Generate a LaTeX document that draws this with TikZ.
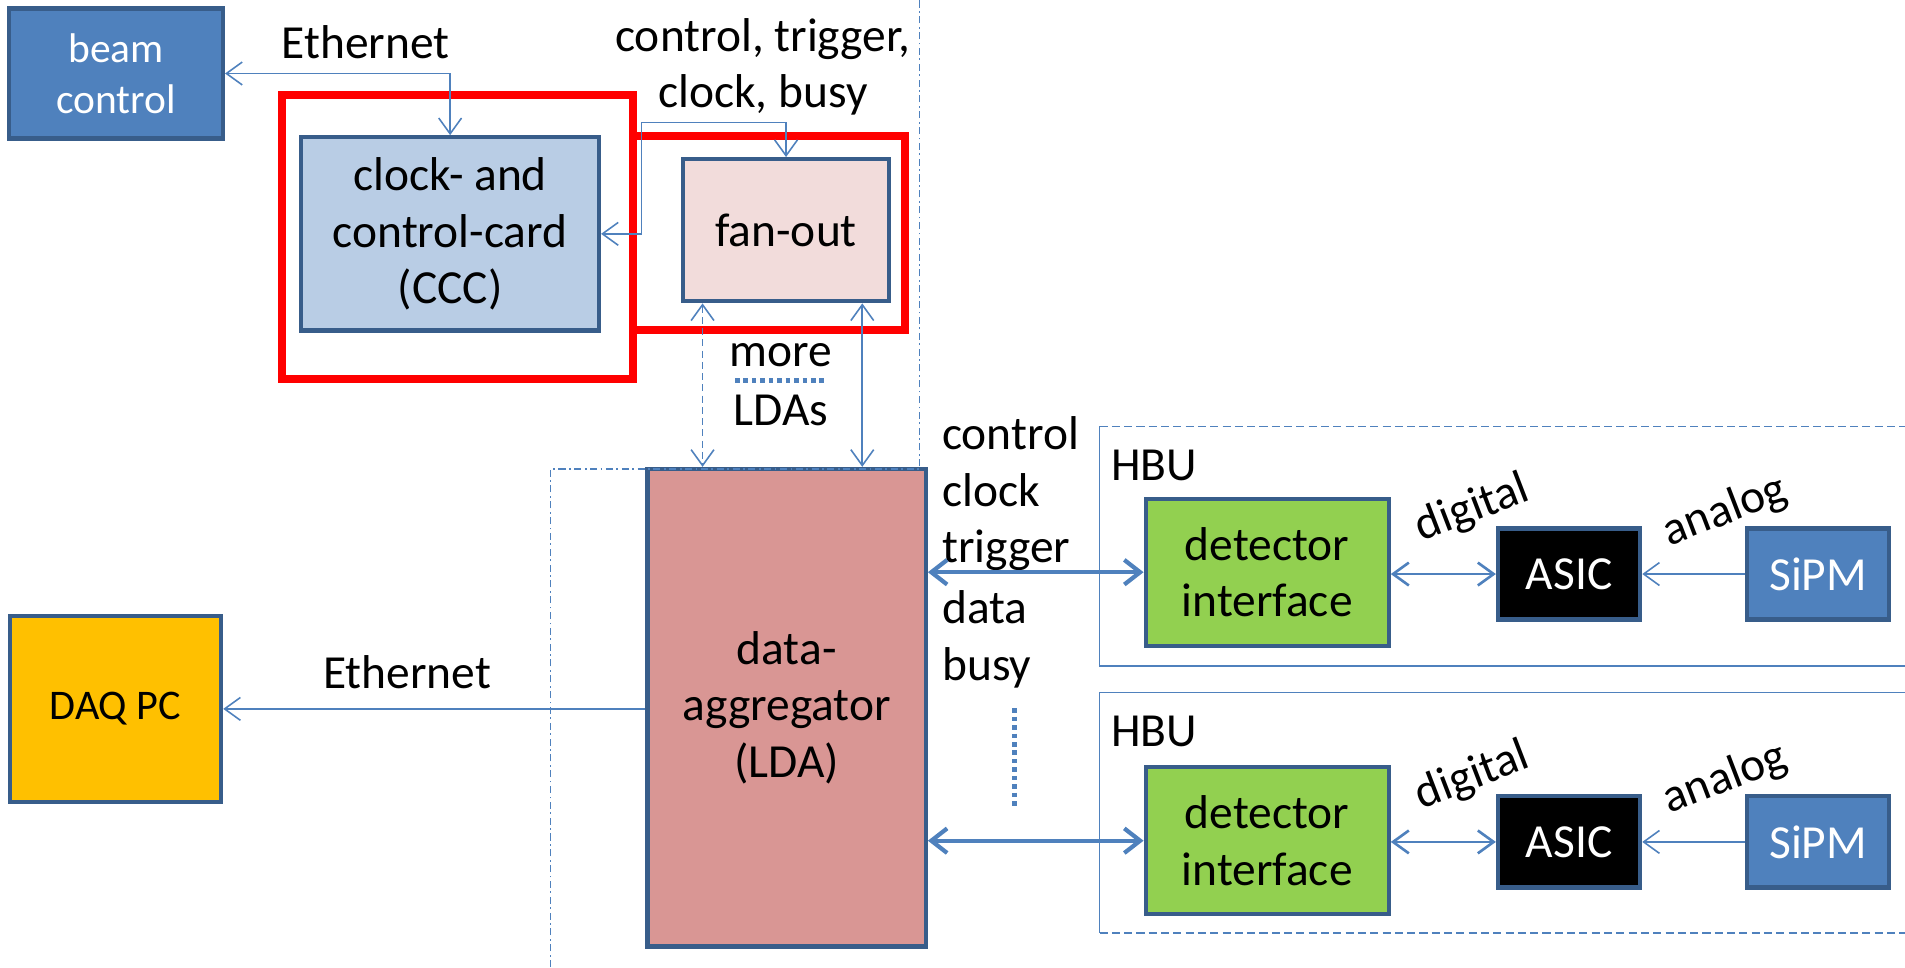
\documentclass[tikz,border=0pt]{standalone}
\usepackage{fontspec}
\setmainfont{Carlito}
\usetikzlibrary{arrows.meta,calc}
\definecolor{ln}{HTML}{4F81BD}
\definecolor{bd}{HTML}{385D8A}
\definecolor{cccfill}{HTML}{B9CDE5}
\definecolor{fanfill}{HTML}{F2DCDB}
\definecolor{ldafill}{HTML}{D99694}
\definecolor{daqfill}{HTML}{FFC000}
\definecolor{difill}{HTML}{92D050}
\definecolor{redline}{HTML}{FF0000}
\def\un{0.012149cm}
\begin{document}
\begin{tikzpicture}[x=0.012149cm,y=-0.012149cm,
  box/.style={draw=bd, line width=1.2pt, inner sep=0pt, align=center, font=\fontsize{13.5}{16}\selectfont},
  lbl/.style={font=\fontsize{13.5}{16}\selectfont, inner sep=0pt, align=center},
  conn/.style={draw=ln, line width=0.45pt},
  both/.style={conn, arrows={Straight Barb[length=4.5pt,width=6.5pt]-Straight Barb[length=4.5pt,width=6.5pt]}},
  one/.style={conn, arrows={-Straight Barb[length=4.5pt,width=6.5pt]}},
  fat/.style={draw=ln, line width=1.2pt, arrows={Straight Barb[length=4.5pt,width=7pt]-Straight Barb[length=4.5pt,width=7pt]}},
  mid/.style={draw=ln, line width=0.75pt, arrows={Straight Barb[length=4.5pt,width=6.5pt]-Straight Barb[length=4.5pt,width=6.5pt]}},
  redbox/.style={draw=redline, line width=2.3pt},
  dashdotline/.style={draw=ln, line width=0.45pt, dash pattern=on 2pt off 1pt on 0.5pt off 1pt},
  hbudash/.style={draw=ln, line width=0.5pt, dash pattern=on 2.3pt off 1.2pt},
  hbusolid/.style={draw=ln, line width=0.5pt},
  dots/.style={draw=ln, line width=1.4pt, dash pattern=on 1.3pt off 1.1pt}
]
\useasboundingbox (0,0) rectangle (1568,796);

% red frames
\draw[redbox] (232,78) rectangle (521,312);
\draw[redbox] (521,112) rectangle (745,272);

% boxes
\node[box, fill=ln, text=white, font=\fontsize{11.8}{14.4}\selectfont, minimum width=176*\un, minimum height=107*\un] (beam) at (95.5,60.5) {beam\\control};
\node[box, fill=cccfill, minimum width=245*\un, minimum height=159*\un] (ccc) at (370.5,192.5) {clock- and\\control-card\\(CCC)};
\node[box, fill=fanfill, minimum width=170*\un, minimum height=117*\un] (fan) at (647,189.5) {fan-out};
\node[box, fill=ldafill, minimum width=229*\un, minimum height=393*\un] (lda) at (647.5,582.5) {data-\\aggregator\\(LDA)};
\node[box, fill=daqfill, font=\fontsize{12}{14.6}\selectfont, minimum width=174*\un, minimum height=153*\un] (daq) at (95,583.5) {DAQ PC};

% region outlines
\draw[dashdotline] (453,796) -- (453,386) -- (757,386) -- (757,0);
\draw[hbusolid] (1568,548) -- (905,548) -- (905,351);
\draw[hbudash] (905,351) -- (1568,351);
\draw[hbusolid] (1568,570) -- (905,570) -- (905,768);
\draw[hbudash] (905,768) -- (1568,768);

\node[box, fill=difill, minimum width=200*\un, minimum height=121*\un] (di1) at (1043,471) {detector\\interface};
\node[box, fill=difill, minimum width=200*\un, minimum height=121*\un] (di2) at (1043,692) {detector\\interface};
\node[box, fill=black, text=white, minimum width=117*\un, minimum height=75*\un] (asic1) at (1291.5,472.5) {ASIC};
\node[box, fill=black, text=white, minimum width=117*\un, minimum height=75*\un] (asic2) at (1291.5,693) {ASIC};
\node[box, fill=ln, text=white, minimum width=117*\un, minimum height=75*\un] (sipm1) at (1496.5,472.5) {SiPM};
\node[box, fill=ln, text=white, minimum width=117*\un, minimum height=75*\un] (sipm2) at (1496.5,693) {SiPM};

% labels
\node[lbl] (eth1) at (301,35) {Ethernet};
\node[lbl] (ctb) at (628,55) {control, trigger,\\clock, busy};
\node[lbl] (more) at (643,292) {more};
\node[lbl] (ldas) at (643,338) {LDAs};
\node[lbl] (eth2) at (335,553) {Ethernet};
\node[lbl, anchor=base west] (s1) at (775,370) {control};
\node[lbl, anchor=base west] (s2) at (775,417) {clock};
\node[lbl, anchor=base west] (s3) at (775,463) {trigger};
\node[lbl, anchor=base west] (s4) at (775,513) {data};
\node[lbl, anchor=base west] (s5) at (775,560) {busy};
\node[lbl] (hbu1) at (950,383) {HBU};
\node[lbl] (hbu2) at (950,602) {HBU};
\node[lbl, rotate=21] (dig1) at (1212,419) {digital};
\node[lbl, rotate=21] (ana1) at (1420,421) {analog};
\node[lbl, rotate=21] (dig2) at (1212,639) {digital};
\node[lbl, rotate=21] (ana2) at (1420,641) {analog};

% dotted markers
\coordinate (m1) at (605,313);
\coordinate (m2) at (681,313);
\draw[dots] (m1) -- (m2);
\coordinate (v1) at (835,583);
\coordinate (v2) at (835,665);
\draw[dots] (v1) -- (v2);

% connectors
\draw[both] (beam.east) -| (ccc.north);
\coordinate (k1) at (528,101);
\draw[both] (ccc.east) -| (k1) -| (fan.north);
\coordinate (fa) at ($(fan.south west)+(18,0)$);
\coordinate (fb) at ($(fan.south east)+(-24,0)$);
\draw[both, dashed, dash pattern=on 2pt off 1.2pt] (fa) -- (fa |- lda.north);
\draw[both] (fb) -- (fb |- lda.north);
\draw[one] (lda.west |- daq.east) -- (daq.east);
\draw[fat] (lda.east |- di1.west) -- (di1.west);
\draw[fat] (lda.east |- di2.west) -- (di2.west);
\draw[mid] (di1.east |- asic1.west) -- (asic1.west);
\draw[mid] (di2.east |- asic2.west) -- (asic2.west);
\draw[one] (sipm1.west) -- (asic1.east);
\draw[one] (sipm2.west) -- (asic2.east);
\end{tikzpicture}
\end{document}
